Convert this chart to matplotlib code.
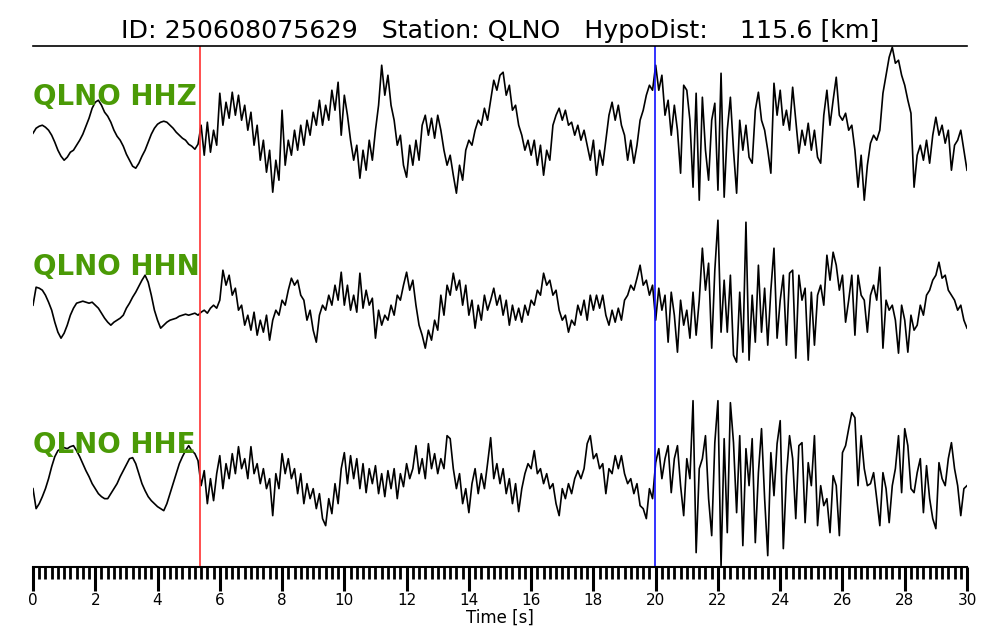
import numpy as np
import matplotlib.pyplot as plt
from matplotlib.ticker import MultipleLocator

# ==========================================================================================
# Dados (amostragem 0.1 s, amplitude em contagens relativas)
# ==========================================================================================
event_id = '250608075629'
station = 'QLNO'
hypo_dist = 115.6
channels = ['HHZ', 'HHN', 'HHE']
t_p = 5.37
t_s = 19.98
dt = 0.1

hhz = [-3, 2, 4, 5, 3, 0, -5, -12, -20, -26,
       -30, -27, -22, -20, -15, -10, -4, 4, 12, 22,
       28, 30, 25, 18, 14, 8, 0, -6, -10, -16,
       -24, -30, -36, -38, -33, -26, -20, -12, -4, 2,
       6, 8, 9, 8, 5, 2, -2, -5, -8, -10,
       -14, -16, -19, -14, 5, -25, 8, -22, 0, -15,
       37, 5, 28, 12, 38, 15, 35, 10, 25, 0,
       18, -15, 5, -30, -10, -42, -20, -62, -30, -50,
       20, -35, -10, -25, 0, -20, 5, -15, 10, -5,
       18, 5, 30, 5, 25, 10, 40, 20, 48, -5,
       35, 15, -10, -30, -15, -48, -20, -40, -10, -30,
       0, 25, 65, 35, 55, 25, 10, -15, -5, -35,
       -47, -15, -35, -10, -30, 5, 15, -5, 12, -8,
       15, 0, -20, -35, -25, -45, -63, -35, -50, -20,
       -10, -15, 0, 10, 5, 22, 10, 30, 50, 40,
       55, 58, 35, 45, 20, 25, 5, -5, -20, -10,
       -25, -10, -35, -15, -45, -20, -30, 5, 15, 22,
       10, 20, 5, 8, -5, 5, -10, 0, -15, -30,
       -10, -45, -20, -35, -10, 15, 28, 10, 25, 5,
       -5, -30, -10, -33, -15, 10, 20, 35, 45, 40,
       65, 40, 55, 15, 30, -5, 25, 0, -43, 45,
       40, 10, -57, 37, -70, 33, -20, -50, 10, 27,
       -60, 57, -67, 0, 33, -20, -63, 10, -20, 5,
       -27, -33, 20, 38, 10, 0, -20, -43, 47, 15,
       40, 5, 20, 0, 43, 10, -23, 0, -15, 7,
       -20, 0, -27, -33, 15, 40, 5, 30, 53, 15,
       10, 17, 0, 5, -20, -57, -25, -70, -35, -13,
       -5, -10, 0, 37, 55, 73, 83, 67, 70, 55,
       45, 30, 17, -57, -25, -15, -30, -10, -33, -5,
       13, -5, 5, -13, 0, -40, -15, -10, 0, -20,
       -40]

hhn = [-5, 13, 12, 10, 5, -2, -10, -22, -32, -38,
       -33, -25, -15, -8, -3, -2, -1, -2, -3, -2,
       -5, -8, -13, -18, -22, -25, -22, -20, -18, -15,
       -8, -3, 3, 8, 14, 20, 25, 18, 5, -10,
       -20, -28, -25, -22, -20, -19, -18, -16, -15, -14,
       -15, -14, -13, -15, -12, -10, -13, -8, -5, -8,
       0, 30, 15, 25, 5, 12, -10, -5, -25, -15,
       -30, -12, -35, -20, -32, -15, -40, -20, -10, -15,
       0, -5, 10, 22, 15, 20, 5, 0, -20, -10,
       -30, -42, -15, -5, -10, 5, -5, 15, 0, 28,
       -5, 15, -10, 5, -12, 27, -8, 10, -5, 2,
       -38, -10, -25, -15, -20, -5, -15, 5, 0, 15,
       28, 10, 20, -5, -25, -35, -48, -30, -40, -20,
       -30, 5, -15, 15, 5, 27, 10, 20, -5, 15,
       -15, 0, -28, -5, -20, 5, -10, 0, 12, -5,
       5, -15, 0, -25, -5, -20, -8, -22, -5, -15,
       0, -5, 10, 5, 27, 15, 20, 5, 10, -10,
       -20, -15, -32, -20, -25, -5, -15, 0, -20, 5,
       -10, 5, -8, 5, -15, -25, -10, -22, -8, -20,
       0, 5, 15, 10, 22, 35, 15, 20, 5, 15,
       -20, 12, -10, 5, -42, 8, -15, -52, 0, -25,
       -10, -38, 8, -35, 0, 52, 10, 37, -48, 30,
       80, -32, 20, -32, 25, -55, -62, 8, -52, 78,
       -60, 5, -42, 35, -32, 12, -45, 10, 52, -38,
       0, 25, -45, 27, 30, -58, 25, 0, 12, -60,
       8, -45, 5, 15, -5, 45, 20, 48, 35, 10,
       25, -22, 0, 25, -35, 25, 5, 0, -32, 5,
       15, 0, 33, -48, 0, -10, -5, -20, -53, -5,
       -20, -52, -15, -30, -25, -5, -15, 5, 10, 20,
       25, 38, 22, 25, 10, 5, 0, -10, -5, -20,
       -28]

hhe = [-10, -30, -25, -18, -10, 0, 12, 22, 28, 30,
       31, 30, 32, 33, 28, 22, 15, 8, 2, -5,
       -10, -15, -18, -20, -20, -15, -10, -5, 2, 8,
       14, 20, 21, 15, 5, -5, -12, -18, -22, -25,
       -28, -30, -32, -25, -15, -5, 5, 15, 22, 28,
       33, 28, 25, 18, -7, 8, -25, 0, -22, 5,
       23, -10, 15, 0, 25, 5, 32, 10, 20, 0,
       32, 5, 15, -5, 10, -10, 0, -37, 5, -10,
       25, 5, 20, 0, 10, -15, 5, -25, -5, -20,
       -10, -30, -15, -40, -47, -20, -35, -5, -25, 10,
       26, -5, 23, 0, 20, -10, 15, -14, 10, -5,
       13, -15, 5, -18, 8, -10, 10, -20, 5, -8,
       15, 0, 10, 33, 5, 20, 0, 35, 10, 25,
       5, 20, 10, 43, 40, 10, -10, 5, -25, -10,
       -34, -5, 10, -15, 5, -10, 15, 41, 0, 15,
       -5, 10, -15, 0, -25, -5, -33, -10, 5, 15,
       10, 28, 5, 10, -5, 5, -10, -5, -25, -37,
       -10, -20, -5, -15, 0, 8, 0, 10, 35, 43,
       20, 25, 10, 15, -15, 10, 5, 23, 10, 23,
       5, -5, 0, -15, -5, -27, -30, -40, -10, -20,
       16, 30, 0, 20, 33, -14, 20, 33, -7, -37,
       20, 0, 78, -74, 10, 20, 43, -20, -57, 36,
       78, -87, 40, -54, 76, 36, -34, 43, -67, 30,
       -7, 40, -64, 6, 50, -20, -77, 26, -17, 35,
       58, -70, 3, 43, 20, -40, 33, 36, -44, 16,
       -7, 43, -47, -7, -27, -20, -54, 3, -7, -57,
       26, 33, 50, 66, 61, -7, 43, 10, -7, -5,
       6, -20, -47, 6, -10, -44, -7, 10, 43, -14,
       50, 33, -10, -14, 6, 20, -34, 13, -20, -40,
       -50, 16, 0, -7, 20, 36, 10, -7, -37, -10,
       -7]

traces = [hhz, hhn, hhe]
offsets = [0.0, -2.0, -4.1]
norm = 85.0

# ==========================================================================================
# Figura
# ==========================================================================================
fig = plt.figure(figsize=(10, 6.4), dpi=100)
ax = fig.add_axes([0.033, 0.114, 0.934, 0.814])

for tr, off, ch in zip(traces, offsets, channels):
    tr = np.array(tr, dtype=float)
    t = np.arange(len(tr)) * dt
    ax.plot(t, off + tr / norm, '-k', lw=1.2)
    ax.text(0.0, off + 0.3, station + ' ' + ch, color='#4a9a06',
            fontsize=20, fontweight='bold', ha='left', va='baseline')

ax.axvline(t_p, color='#ff3030', lw=1.2)
ax.axvline(t_s, color='#1010ff', lw=1.2)

ax.set_xlim(0, 30)
ax.set_ylim(-5.14, 0.99)
ax.set_yticks([])
ax.spines['left'].set_visible(False)
ax.spines['right'].set_visible(False)
ax.spines['top'].set_linewidth(1.2)
ax.spines['bottom'].set_linewidth(1.5)

ax.xaxis.set_major_locator(MultipleLocator(2))
ax.xaxis.set_minor_locator(MultipleLocator(0.2))
ax.tick_params(axis='x', which='major', length=17, width=2.2, labelsize=11, pad=2)
ax.tick_params(axis='x', which='minor', length=8.5, width=2)
ax.set_xlabel('Time [s]', fontsize=12, labelpad=0)

ax.set_title('ID: %s   Station: %s   HypoDist: %8.1f [km]' % (event_id, station, hypo_dist),
             fontsize=18.2, pad=6)

fig.savefig('out.png', dpi=100)
